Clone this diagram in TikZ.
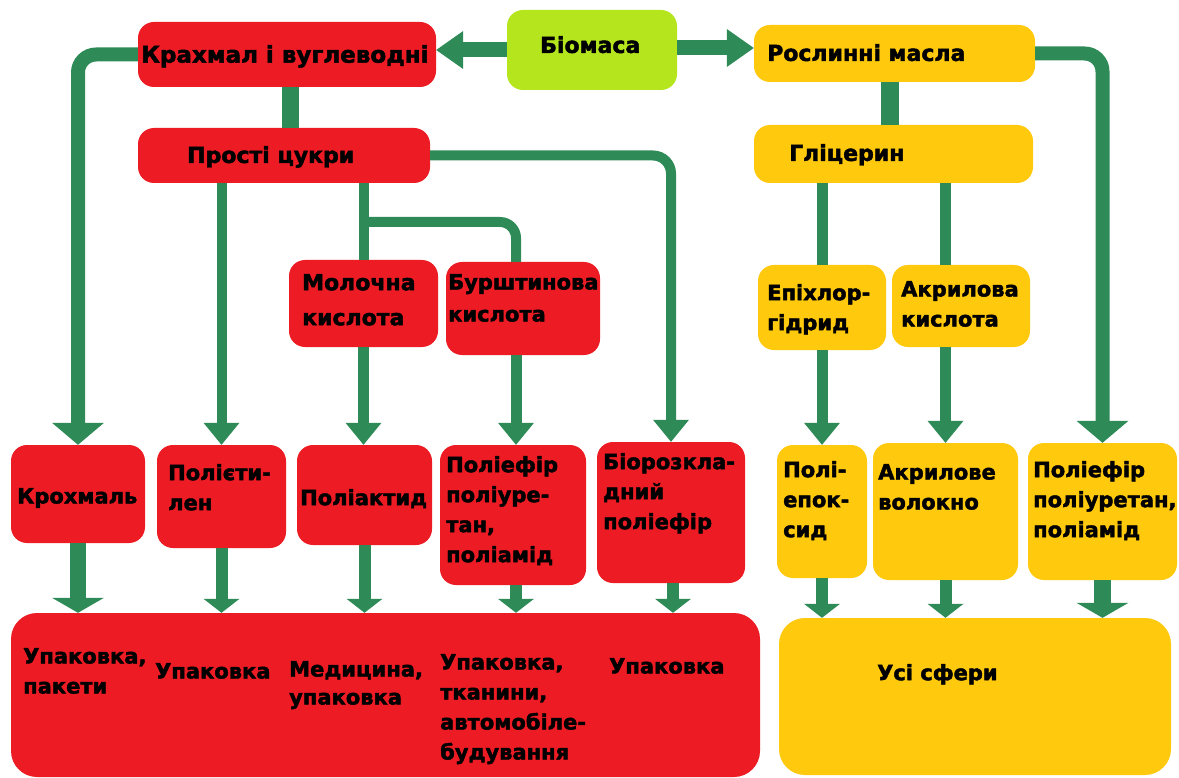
\documentclass[tikz,border=0pt]{standalone}
\usepackage{fontspec}
\setmainfont{DejaVu Sans}[BoldFeatures={FakeBold=2}]
\usetikzlibrary{arrows.meta}
\definecolor{cred}{HTML}{ED1C24}
\definecolor{cyel}{HTML}{FFC90E}
\definecolor{clime}{HTML}{B5E61D}
\definecolor{cgrn}{HTML}{2E8B57}
\tikzset{
  rbox/.style={fill=cred, draw=none, rounded corners=16pt, inner sep=0pt},
  ybox/.style={fill=cyel, draw=none, rounded corners=16pt, inner sep=0pt},
  gbox/.style={fill=clime, draw=none, rounded corners=16pt, inner sep=0pt},
  txt/.style={align=left, inner sep=0pt, anchor=north west, text=black,
              font=\fontsize{21}{30}\selectfont\bfseries},
  toptxt/.style={txt, font=\fontsize{22}{30}\selectfont\bfseries},
  ln/.style={draw=cgrn, line width=#1},
  arrA/.style={-{Triangle[width=36pt,length=22pt,line width=0pt]}},
  arrB/.style={-{Triangle[width=52pt,length=22pt,line width=0pt]}},
  arrC/.style={-{Triangle[width=38pt,length=27pt,line width=0pt]}},
  arrD/.style={-{Triangle[width=36pt,length=14pt,line width=0pt]}},
  arrE/.style={-{Triangle[width=52pt,length=15pt,line width=0pt]}},
}
\begin{document}
\begin{tikzpicture}[x=1pt,y=-1pt]
\useasboundingbox (0,0) rectangle (1179,778);
\fill[white] (0,0) rectangle (1179,778);
% boxes
\node[rbox, minimum width=298pt, minimum height=65pt] (kv) at (287,54.5) {};
\node[gbox, minimum width=170pt, minimum height=80pt] (bio) at (592,50) {};
\node[ybox, minimum width=281pt, minimum height=57pt] (ol) at (894.5,53.5) {};
\node[rbox, minimum width=292pt, minimum height=55pt] (pc) at (284,155.5) {};
\node[ybox, minimum width=279pt, minimum height=58pt] (gl) at (893.5,154) {};
\node[rbox, minimum width=149pt, minimum height=87pt] (ml) at (363.5,303.5) {};
\node[rbox, minimum width=154pt, minimum height=93pt] (bu) at (523,308.5) {};
\node[ybox, minimum width=128pt, minimum height=85pt] (ep) at (822,307.5) {};
\node[ybox, minimum width=138pt, minimum height=82pt] (ak) at (961,306) {};
\node[rbox, minimum width=134pt, minimum height=98pt] (kr) at (78,494) {};
\node[rbox, minimum width=129pt, minimum height=103pt] (pe) at (221.5,496.5) {};
\node[rbox, minimum width=135pt, minimum height=100pt] (pa) at (364.5,495) {};
\node[rbox, minimum width=146pt, minimum height=140pt] (pr) at (513,515) {};
\node[rbox, minimum width=148pt, minimum height=141pt] (bd) at (671,512.5) {};
\node[ybox, minimum width=90pt, minimum height=133pt] (px) at (822,511.5) {};
\node[ybox, minimum width=145pt, minimum height=137pt] (aw) at (945.5,511.5) {};
\node[ybox, minimum width=149pt, minimum height=137pt] (py) at (1102.5,511.5) {};
\node[rbox, rounded corners=26pt, minimum width=749pt, minimum height=164pt] (rb) at (385.5,695) {};
\node[ybox, rounded corners=26pt, minimum width=392pt, minimum height=157pt] (yb) at (975,696.5) {};
% connectors
\draw[ln=15pt, arrC] (bio.west) -- (bio.west -| kv.east);
\draw[ln=15pt, arrC] ([yshift=2pt]bio.east) -- ([yshift=2pt]bio.east -| ol.west);
\draw[ln=17pt] ([xshift=3pt]kv.south) -- ([xshift=3pt]kv.south |- pc.north);
\draw[ln=14pt, arrB, rounded corners=18pt] (kv.west) -| (kr.north);
\draw[ln=14pt, arrB, rounded corners=18pt] (ol.east) -| (py.north);
\draw[ln=18pt] ([xshift=-5pt]ol.south) -- ([xshift=-5pt]ol.south |- gl.north);
\draw[ln=10pt, arrA, rounded corners=18pt] (pc.east) -| (bd.north);
\draw[ln=10pt, arrA] (pe.north |- pc.south) -- (pe.north);
\draw[ln=10pt] (ml.north |- pc.south) -- (ml.north);
\coordinate (br) at (363.5,222);
\draw[ln=10pt, rounded corners=16pt] (br) -| ([xshift=-7pt]bu.north);
\draw[ln=11pt, arrA] (ml.south) -- (ml.south |- pa.north);
\draw[ln=11pt, arrA] ([xshift=-7pt]bu.south) -- ([xshift=-7pt]bu.south |- pr.north);
\draw[ln=11pt] (ep.north |- gl.south) -- (ep.north);
\draw[ln=11pt] ([xshift=-16pt]ak.north |- gl.south) -- ([xshift=-16pt]ak.north);
\draw[ln=11pt, arrA] (px.north |- ep.south) -- (px.north);
\draw[ln=11pt, arrA] (aw.north |- ak.south) -- (aw.north);
% bottom arrows
\draw[ln=16pt, arrE] (kr.south) -- (kr.south |- rb.north);
\draw[ln=12pt, arrD] (pe.south) -- (pe.south |- rb.north);
\draw[ln=12pt, arrD] (pa.south) -- (pa.south |- rb.north);
\draw[ln=12pt, arrD] ([xshift=3pt]pr.south) -- ([xshift=3pt]pr.south |- rb.north);
\draw[ln=12pt, arrD] ([xshift=2pt]bd.south) -- ([xshift=2pt]bd.south |- rb.north);
\draw[ln=12pt, arrD] (px.south) -- (px.south |- yb.north);
\draw[ln=12pt, arrD] (aw.south) -- (aw.south |- yb.north);
\draw[ln=17pt, arrE] (py.south) -- (py.south |- yb.north);
% texts
\node[txt, font=\fontsize{23}{30}\selectfont\bfseries] (t1) at (141,45) {Крахмал і вуглеводні};
\node[toptxt] (t2) at (540,36) {Біомаса};
\node[toptxt] (t3) at (767,44) {Рослинні масла};
\node[toptxt] (t4) at (187,146) {Прості цукри};
\node[toptxt] (t5) at (789,144) {Гліцерин};
\node[txt, font=\fontsize{22}{35}\selectfont\bfseries] (t6) at (302,274) {Молочна\\кислота};
\node[txt, font=\fontsize{21}{32}\selectfont\bfseries] (t7) at (448,274) {Бурштинова\\кислота};
\node[txt] (t8) at (767,284) {Епіхлор-\\гідрид};
\node[txt] (t9) at (901,281) {Акрилова\\кислота};
\node[txt] (t10) at (17,488) {Крохмаль};
\node[txt] (t11) at (168,464) {Полієти-\\лен};
\node[txt] (t12) at (300,489) {Поліактид};
\node[txt] (t13) at (446,456) {Поліефір\\поліуре-\\тан,\\поліамід};
\node[txt] (t14) at (603,453) {Біорозкла-\\дний\\поліефір};
\node[txt] (t15) at (783,461) {Полі-\\епок-\\сид};
\node[txt] (t16) at (878,464) {Акрилове\\волокно};
\node[txt] (t17) at (1033,461) {Поліефір\\поліуретан,\\поліамід};
\node[txt] (t18) at (23,648) {Упаковка,\\пакети};
\node[txt] (t19) at (155,663) {Упаковка};
\node[txt, font=\fontsize{21}{28}\selectfont\bfseries] (t20) at (289,661) {Медицина,\\упаковка};
\node[txt] (t21) at (440,654) {Упаковка,\\тканини,\\автомобіле-\\будування};
\node[txt] (t22) at (609,658) {Упаковка};
\node[txt] (t23) at (877,664) {Усі сфери};
\end{tikzpicture}
\end{document}
